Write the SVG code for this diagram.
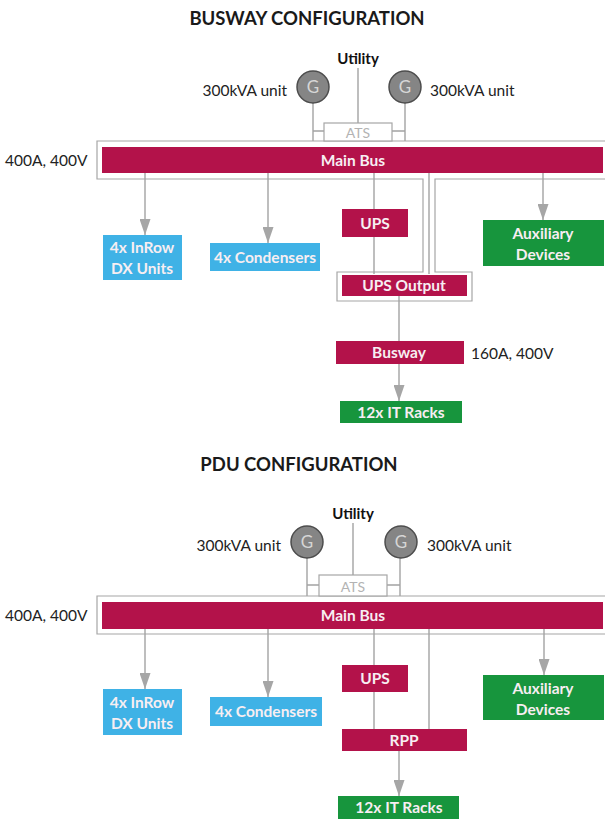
<svg xmlns="http://www.w3.org/2000/svg" width="605" height="819" viewBox="0 0 605 819">
<style>
text{font-family:Lato,"Liberation Sans",sans-serif}
.title{font-size:18.5px;font-weight:bold;fill:#1a1a1a;text-anchor:middle}
.lbl{font-size:15.5px;fill:#222}
.util{font-size:15px;font-weight:bold;fill:#111;text-anchor:middle}
.bx{font-size:15.5px;font-weight:bold;fill:#f7eef2;text-anchor:middle}
.red{fill:#b3124a}
.blue{fill:#3fb2e6}
.green{fill:#17953d}
.ol{fill:none;stroke:#a6a6a6;stroke-width:1.2}
.ln{fill:none;stroke:#a3a3a3;stroke-width:1.4}
.gen{fill:#858585;stroke:#4d4d4d;stroke-width:1.5}
.g{font-size:17px;fill:#d6d6d6;text-anchor:middle}
.ats{fill:#fff;stroke:#a6a6a6;stroke-width:1.2}
.atst{font-size:14px;fill:#b3b3b3;text-anchor:middle}
</style>
<defs>
<marker id="ah" viewBox="0 0 16 11" refX="16" refY="5.5" markerWidth="16" markerHeight="11" markerUnits="userSpaceOnUse" orient="auto">
<path d="M0,0 L16,5.5 L0,11 z" fill="#a6a6a6"/>
</marker>
</defs>

<text class="title" x="307" y="24.5">BUSWAY CONFIGURATION</text>
<text class="title" x="299" y="471">PDU CONFIGURATION</text>

<!-- connectors -->
<g id="connectors">
<!-- busway -->
<path class="ln" d="M358,68 V123"/>
<path class="ln" d="M313,103 V141 M405,103 V141 M313,131 H324 M392,131 H405"/>
<path class="ol" d="M607,141 H97 V179 H423 V272 H337 V301 H472 V272 H435 V179 H607"/>
<path class="ln" d="M145,173 V235" marker-end="url(#ah)"/>
<path class="ln" d="M268,173 V243" marker-end="url(#ah)"/>
<path class="ln" d="M543,173 V220" marker-end="url(#ah)"/>
<path class="ln" d="M374,173 V274"/>
<path class="ln" d="M429,173 V274"/>
<path class="ln" d="M399,296 V341"/>
<path class="ln" d="M399,364 V401" marker-end="url(#ah)"/>
<!-- pdu -->
<path class="ln" d="M353,523 V575"/>
<path class="ln" d="M307,558 V596 M400,558 V596 M307,585 H319 M387,585 H400"/>
<path class="ol" d="M607,596 H97 V634 H607"/>
<path class="ln" d="M145,629 V689" marker-end="url(#ah)"/>
<path class="ln" d="M268,629 V697" marker-end="url(#ah)"/>
<path class="ln" d="M544,629 V675" marker-end="url(#ah)"/>
<path class="ln" d="M374,629 V729"/>
<path class="ln" d="M429,629 V729"/>
<path class="ln" d="M399,751 V796" marker-end="url(#ah)"/>
</g>

<!-- BUSWAY nodes -->
<g id="b-utility"><text class="util" x="358" y="64">Utility</text></g>
<g id="b-gen1"><circle class="gen" cx="313" cy="87" r="16"/><text class="g" x="313" y="93">G</text><text class="lbl" x="287" y="95.5" text-anchor="end">300kVA unit</text></g>
<g id="b-gen2"><circle class="gen" cx="405" cy="87" r="16"/><text class="g" x="405" y="93">G</text><text class="lbl" x="430" y="95.5">300kVA unit</text></g>
<g id="b-ats"><rect class="ats" x="324" y="123" width="68" height="18"/><text class="atst" x="358" y="138">ATS</text></g>
<g id="b-mainbus"><rect class="red" x="102" y="147" width="501" height="26"/><text class="bx" x="353" y="165.5">Main Bus</text><text class="lbl" x="5" y="166">400A, 400V</text></g>
<g id="b-inrow"><rect class="blue" x="103" y="235" width="79" height="45"/><text class="bx" x="142" y="252.5">4x InRow</text><text class="bx" x="142" y="273.5">DX Units</text></g>
<g id="b-cond"><rect class="blue" x="210" y="243" width="110" height="28"/><text class="bx" x="265" y="262.5">4x Condensers</text></g>
<g id="b-ups"><rect class="red" x="342" y="209" width="66" height="28"/><text class="bx" x="375" y="228.5">UPS</text></g>
<g id="b-aux"><rect class="green" x="483" y="220" width="121" height="46"/><text class="bx" x="543" y="238.5">Auxiliary</text><text class="bx" x="543" y="259.5">Devices</text></g>
<g id="b-upsout"><rect class="red" x="342" y="275" width="125" height="21"/><text class="bx" x="404" y="291">UPS Output</text></g>
<g id="b-busway"><rect class="red" x="336" y="341" width="128" height="23"/><text class="bx" x="399" y="358">Busway</text><text class="lbl" x="471" y="358.5">160A, 400V</text></g>
<g id="b-racks"><rect class="green" x="340" y="401" width="122" height="22"/><text class="bx" x="401" y="417.5">12x IT Racks</text></g>

<!-- PDU nodes -->
<g id="p-utility"><text class="util" x="353" y="519">Utility</text></g>
<g id="p-gen1"><circle class="gen" cx="307" cy="542" r="16"/><text class="g" x="307" y="548">G</text><text class="lbl" x="281" y="550.5" text-anchor="end">300kVA unit</text></g>
<g id="p-gen2"><circle class="gen" cx="401" cy="542" r="16"/><text class="g" x="401" y="548">G</text><text class="lbl" x="427" y="550.5">300kVA unit</text></g>
<g id="p-ats"><rect class="ats" x="319" y="575" width="68" height="21"/><text class="atst" x="353" y="592">ATS</text></g>
<g id="p-mainbus"><rect class="red" x="102" y="602" width="501" height="27"/><text class="bx" x="353" y="621">Main Bus</text><text class="lbl" x="5" y="621">400A, 400V</text></g>
<g id="p-inrow"><rect class="blue" x="103" y="689" width="79" height="46"/><text class="bx" x="142" y="707.5">4x InRow</text><text class="bx" x="142" y="728.5">DX Units</text></g>
<g id="p-cond"><rect class="blue" x="210" y="697" width="112" height="29"/><text class="bx" x="266" y="717">4x Condensers</text></g>
<g id="p-ups"><rect class="red" x="342" y="665" width="66" height="27"/><text class="bx" x="375" y="684">UPS</text></g>
<g id="p-aux"><rect class="green" x="483" y="675" width="121" height="45"/><text class="bx" x="543" y="693.5">Auxiliary</text><text class="bx" x="543" y="714.5">Devices</text></g>
<g id="p-rpp"><rect class="red" x="342" y="729" width="125" height="22"/><text class="bx" x="404" y="745.5">RPP</text></g>
<g id="p-racks"><rect class="green" x="338" y="796" width="121" height="23"/><text class="bx" x="399" y="813">12x IT Racks</text></g>
</svg>
